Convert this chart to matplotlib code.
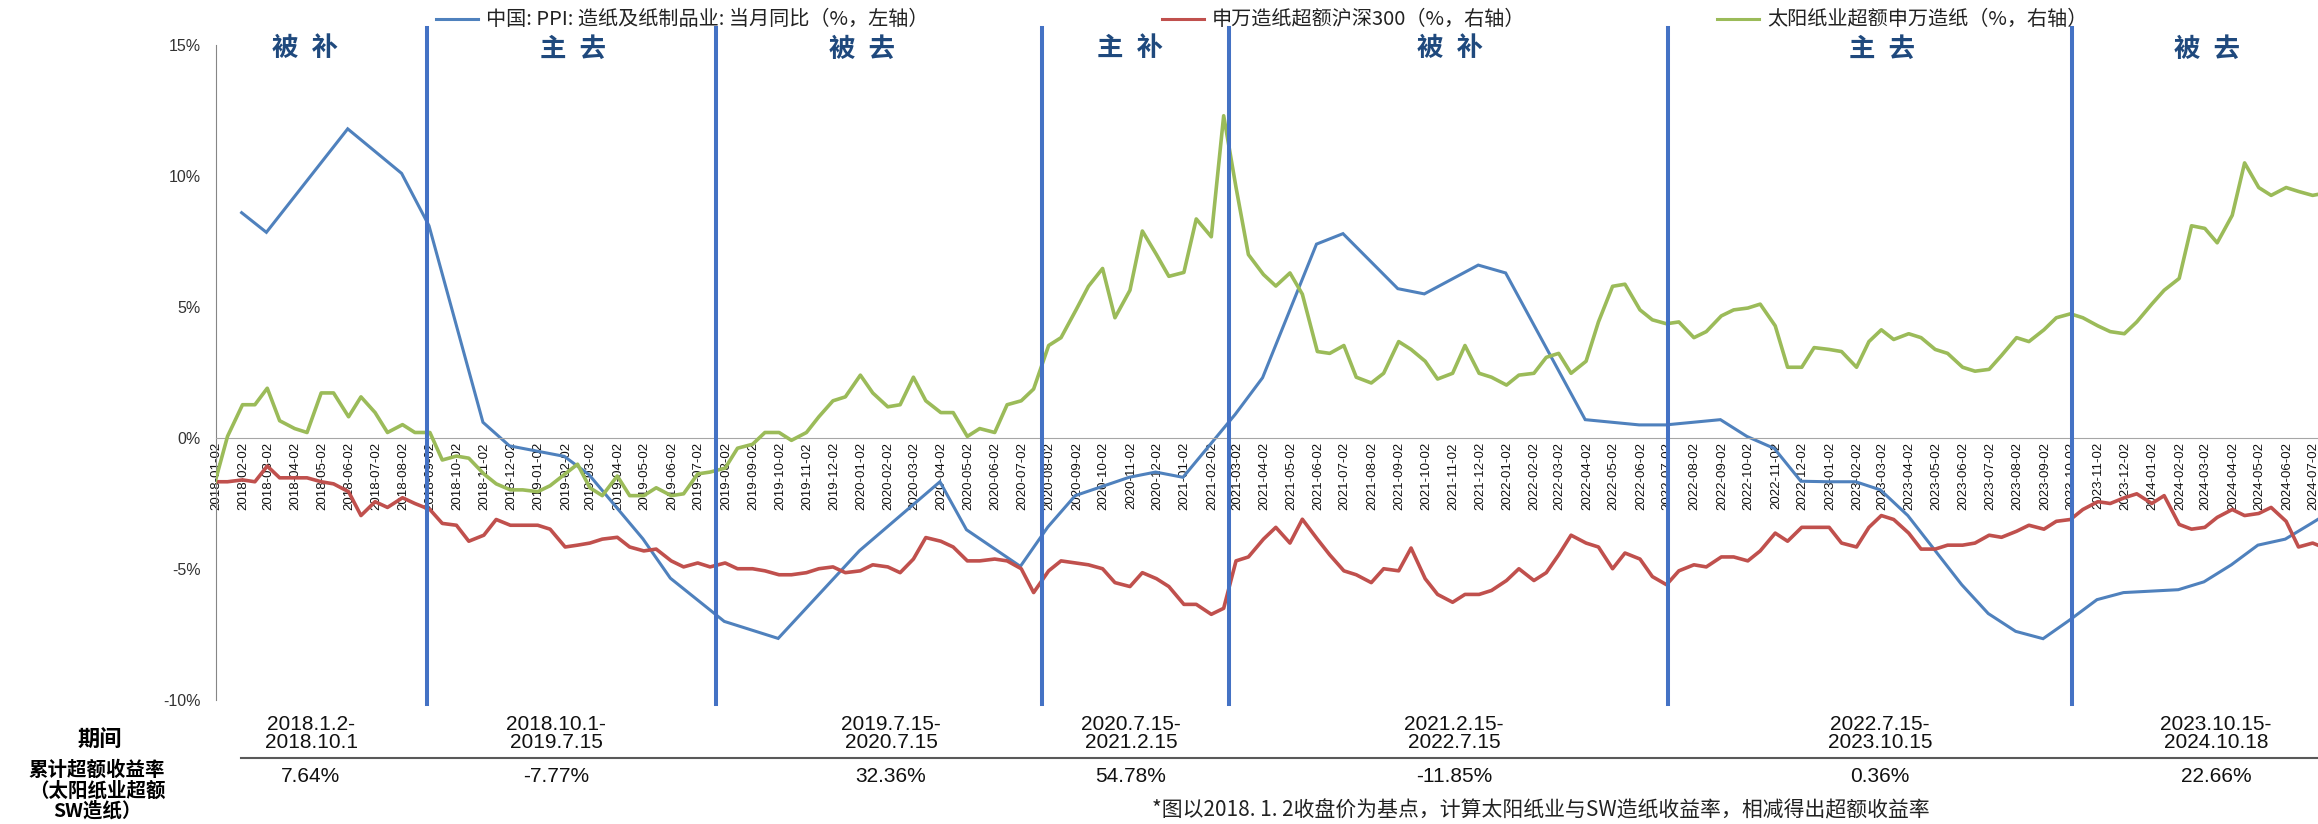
import pandas as pd
import matplotlib
matplotlib.use('Agg')
import matplotlib.pyplot as plt
import matplotlib.dates as md
from matplotlib.lines import Line2D
from matplotlib.ticker import FuncFormatter

W, H = 2318, 824
CJK = ['Noto Sans CJK SC', 'DejaVu Sans']
plt.rcParams['font.family'] = ['Liberation Sans', 'DejaVu Sans']

# 中国 PPI 造纸及纸制品业 当月同比 (%), month-end points
ppi_months = ['2018-01', '2018-02', '2018-05', '2018-07', '2018-08', '2018-10', '2018-11',
              '2019-01', '2019-02', '2019-04', '2019-05', '2019-07', '2019-09', '2019-12',
              '2020-03', '2020-04', '2020-06', '2020-07', '2020-08', '2020-10', '2020-11',
              '2020-12', '2021-02', '2021-03', '2021-05', '2021-06', '2021-08', '2021-09',
              '2021-11', '2021-12', '2022-03', '2022-05', '2022-06', '2022-08', '2022-09',
              '2022-10', '2022-11', '2022-12', '2023-01', '2023-02', '2023-03', '2023-05',
              '2023-06', '2023-07', '2023-08', '2023-09', '2023-10', '2023-11', '2024-01',
              '2024-02', '2024-03', '2024-04', '2024-05', '2024-06', '2024-07']
ppi_values = [8.6, 7.85, 11.8, 10.1, 8.1, 0.6, -0.3,
              -0.7, -1.4, -3.85, -5.35, -7.0, -7.65, -4.3,
              -1.67, -3.5, -4.9, -3.4, -2.2, -1.5, -1.3,
              -1.5, 0.9, 2.3, 7.4, 7.8, 5.7, 5.5,
              6.6, 6.3, 0.7, 0.5, 0.5, 0.7, 0.06,
              -0.4, -1.65, -1.67, -1.67, -1.98, -2.96, -5.6,
              -6.7, -7.38, -7.66, -6.95, -6.17, -5.9, -5.79,
              -5.49, -4.84, -4.09, -3.86, -3.25, -2.6]

# semi-monthly readings (1st / 15th), from 2018-01-01
sun_paper = [  # 太阳纸业超额申万造纸
    -1.67, 0.06, 1.27, 1.27, 1.9, 0.66, 0.36, 0.21, 1.72, 1.72, 0.81, 1.57,
    0.97, 0.21, 0.51, 0.21, 0.21, -0.84, -0.69, -0.77, -1.37, -1.75, -1.98, -1.98,
    -2.05, -1.82, -1.37, -1.0, -1.9, -2.2, -1.45, -2.2, -2.2, -1.9, -2.2, -2.13,
    -1.37, -1.3, -1.15, -0.39, -0.24, 0.21, 0.21, -0.09, 0.21, 0.81, 1.42, 1.57,
    2.4, 1.72, 1.19, 1.27, 2.32, 1.42, 0.97, 0.97, 0.06, 0.36, 0.21, 1.27,
    1.42, 1.87, 3.53, 3.83, 4.89, 5.79, 6.47, 4.59, 5.64, 7.9, 7.0, 6.17,
    6.32, 8.36, 7.68, 12.3, 9.56, 7.0, 6.24, 5.8, 6.3, 5.49, 3.3, 3.23,
    3.53, 2.32, 2.1, 2.47, 3.68, 3.38, 2.93, 2.25, 2.47, 3.53, 2.47, 2.32,
    2.02, 2.4, 2.47, 3.08, 3.23, 2.47, 2.93, 4.43, 5.79, 5.87, 4.89, 4.51,
    4.36, 4.43, 3.83, 4.06, 4.66, 4.89, 4.96, 5.11, 4.28, 2.7, 2.7, 3.45,
    3.38, 3.3, 2.7, 3.68, 4.13, 3.76, 3.98, 3.83, 3.38, 3.23, 2.7, 2.55,
    2.62, 3.15, 3.83, 3.68, 4.13, 4.59, 4.74, 4.59, 4.28, 4.06, 3.98, 4.43,
    5.11, 5.64, 6.09, 8.1, 8.0, 7.45, 8.5, 10.5, 9.56, 9.26, 9.56, 9.41,
    9.26, 9.35, 9.4]
sw_paper = [  # 申万造纸超额沪深300
    -1.67, -1.67, -1.6, -1.67, -1.07, -1.52, -1.52, -1.52, -1.67, -1.75, -2.05, -2.96,
    -2.43, -2.65, -2.28, -2.5, -2.73, -3.26, -3.33, -3.94, -3.71, -3.11, -3.33, -3.33,
    -3.33, -3.48, -4.16, -4.09, -4.01, -3.86, -3.79, -4.16, -4.31, -4.24, -4.69, -4.92,
    -4.77, -4.92, -4.77, -4.99, -4.99, -5.07, -5.22, -5.22, -5.14, -4.99, -4.92, -5.14,
    -5.07, -4.84, -4.92, -5.14, -4.62, -3.8, -3.94, -4.16, -4.69, -4.69, -4.62, -4.69,
    -4.99, -5.9, -5.07, -4.69, -4.77, -4.84, -4.99, -5.52, -5.67, -5.14, -5.37, -5.67,
    -6.35, -6.35, -6.73, -6.5, -4.69, -4.54, -3.86, -3.41, -4.01, -3.1, -3.86, -4.46,
    -5.07, -5.22, -5.52, -4.99, -5.07, -4.2, -5.37, -5.97, -6.27, -5.97, -5.97, -5.82,
    -5.44, -4.99, -5.44, -5.14, -4.46, -3.71, -4.01, -4.16, -4.99, -4.39, -4.62, -5.29,
    -5.6, -5.07, -4.84, -4.92, -4.54, -4.54, -4.69, -4.31, -3.63, -3.94, -3.41, -3.41,
    -3.41, -4.01, -4.16, -3.41, -2.96, -3.11, -3.63, -4.24, -4.24, -4.09, -4.09, -4.01,
    -3.71, -3.79, -3.56, -3.33, -3.48, -3.18, -3.11, -2.73, -2.43, -2.5, -2.28, -2.13,
    -2.5, -2.2, -3.3, -3.48, -3.41, -3.03, -2.73, -2.96, -2.88, -2.65, -3.18, -4.16,
    -4.01, -4.2, -4.1]

regime_dates = ['2018-08-29', '2019-07-22', '2020-07-24', '2021-02-21', '2022-07-03', '2023-10-03']
regime_names = ['被补', '主去', '被去', '主补', '被补', '主去', '被去']
periods = [('2018.1.2-', '2018.10.1'), ('2018.10.1-', '2019.7.15'), ('2019.7.15-', '2020.7.15'),
           ('2020.7.15-', '2021.2.15'), ('2021.2.15-', '2022.7.15'), ('2022.7.15-', '2023.10.15'),
           ('2023.10.15-', '2024.10.18')]
excess_returns = ['7.64%', '-7.77%', '32.36%', '54.78%', '-11.85%', '0.36%', '22.66%']

ppi_dates = pd.to_datetime(ppi_months) + pd.offsets.MonthEnd(0)
semi_dates = pd.date_range('2018-01-01', periods=len(sun_paper), freq='SMS')
tick_dates = pd.date_range('2018-01-01', '2024-07-01', freq='MS') + pd.Timedelta(days=1)

fig = plt.figure(figsize=(W / 100, H / 100), dpi=100)
# plot area runs past the right edge of the picture, as in the source
ax = fig.add_axes([216 / W, 1 - 700 / H, (2409 - 216) / W, (700 - 45) / H])
ax.set_xlim(pd.Timestamp('2018-01-02'), pd.Timestamp('2024-10-18'))
ax.set_ylim(-10, 15)

ax.plot(ppi_dates, ppi_values, color='#4F81BD', lw=2.2, solid_joinstyle='miter')

ax.set_yticks([-10, -5, 0, 5, 10, 15])
ax.yaxis.set_major_formatter(FuncFormatter(lambda v, p: f'{v:.0f}%'))
ax.tick_params(axis='y', length=0, pad=11, labelsize=11.5, labelcolor='#333333')
ax.set_xticks(tick_dates)
ax.xaxis.set_major_formatter(md.DateFormatter('%Y-%m-%d'))
ax.tick_params(axis='x', length=0, pad=3, labelsize=9.5, labelrotation=90, labelcolor='#111111')
ax.spines['bottom'].set_position(('data', 0))
ax.spines['bottom'].set_color('#A6A6A6')
ax.spines['bottom'].set_linewidth(0.8)
ax.spines['left'].set_color('#868686')
ax.spines['top'].set_visible(False)
ax.spines['right'].set_visible(False)

ax2 = ax.twinx()
ax2.set_ylim(-10, 15)
ax2.set_axis_off()
ax2.plot(semi_dates, sw_paper, color='#C0504D', lw=2.6)
ax2.plot(semi_dates, sun_paper, color='#9BBB59', lw=2.6)
for d in regime_dates:
    ax2.axvline(pd.Timestamp(d), ymin=-0.006, ymax=1.026, color='#4472C4', lw=2.9, clip_on=False)

# regime names along the top
label_px = [305, 573, 862, 1130, 1450, 1882, 2207]
for name, xp in zip(regime_names, label_px):
    fig.text(xp / W, 1 - 49 / H, '\u2002'.join(name), ha='center', va='center', fontsize=19,
             fontweight='bold', color='#1F497D', family=CJK)

# legend row
legend_items = [('中国: PPI: 造纸及纸制品业: 当月同比（%，左轴）', '#4F81BD', 436),
                ('申万造纸超额沪深300（%，右轴）', '#C0504D', 1162),
                ('太阳纸业超额申万造纸（%，右轴）', '#9BBB59', 1717)]
ly = 1 - 19 / H
for label, c, xp in legend_items:
    fig.add_artist(Line2D([xp / W, (xp + 42) / W], [ly, ly], color=c, lw=2.2))
    fig.text((xp + 50) / W, ly, label, ha='left', va='center', fontsize=14.5,
             color='#222222', family=CJK)

# table under the chart
col_px = [311, 556, 891, 1131, 1454, 1880, 2216]
for (p1, p2), r, xp in zip(periods, excess_returns, col_px):
    fig.text(xp / W, 1 - 724 / H, p1, ha='center', va='center', fontsize=15, color='#111111')
    fig.text(xp / W, 1 - 742 / H, p2, ha='center', va='center', fontsize=15, color='#111111')
    fig.text(xp / W, 1 - 777 / H, r, ha='center', va='center', fontsize=15, color='#111111')
fig.text(100 / W, 1 - 740 / H, '期间', ha='center', va='center', fontsize=16,
         fontweight='bold', family=CJK)
for s, yp in zip(['累计超额收益率', '（太阳纸业超额', 'SW造纸）'], [770, 791, 811]):
    fig.text(97 / W, 1 - yp / H, s, ha='center', va='center', fontsize=14,
             fontweight='bold', family=CJK)
fig.add_artist(Line2D([241 / W, 1], [1 - 758 / H] * 2, color='#595959', lw=1.5))
fig.text(1152 / W, 1 - 810 / H, '*图以2018. 1. 2收盘价为基点，计算太阳纸业与SW造纸收益率，相减得出超额收益率',
         ha='left', va='center', fontsize=15, color='#222222', family=CJK)

fig.savefig('out.png', dpi=100)
